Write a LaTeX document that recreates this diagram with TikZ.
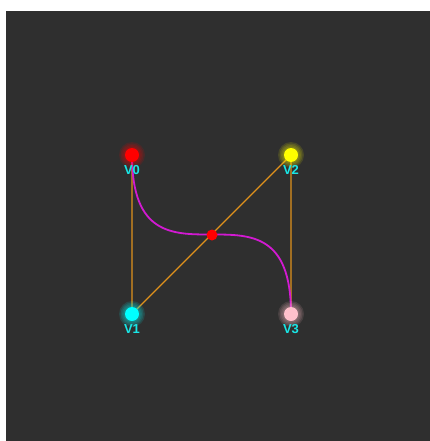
\documentclass[tikz,border=0pt]{standalone}
\usepackage{fontspec}
\setmainfont{Liberation Sans}
\definecolor{bgdark}{HTML}{2F2F2F}
\definecolor{edgeorange}{HTML}{E0921C}
\definecolor{curvemag}{HTML}{D21AD2}
\definecolor{labelcyan}{HTML}{19E6E6}
\definecolor{vred}{HTML}{FF0000}
\definecolor{vcyan}{HTML}{00FFFF}
\definecolor{vyellow}{HTML}{FFFF00}
\definecolor{vpink}{HTML}{FFC0CB}
\begin{document}
\begin{tikzpicture}[x=1pt,y=-1pt,
  vx/.style={circle,inner sep=0pt,minimum size=14pt,fill=#1},
  lbl/.style={text=labelcyan,font=\bfseries\fontsize{13}{13}\selectfont,inner sep=0pt,anchor=north},
  edge/.style={draw=edgeorange,line width=1.3pt},
  bez/.style={draw=curvemag,line width=1.8pt}]
  \useasboundingbox (0,0) rectangle (430,441);
  \fill[white] (0,0) rectangle (430,441);
  \fill[bgdark] (6,11) rectangle (430,441);
  % control points
  \coordinate (p0) at (132,155);
  \coordinate (p1) at (132,314);
  \coordinate (p2) at (291,155);
  \coordinate (p3) at (291,314);
  \coordinate (mid) at (212,235);
  % polygon
  \draw[edge] (p0) -- (p1) -- (p2) -- (p3);
  \draw[bez] (p0) .. controls (p1) and (p2) .. (p3);
  % glow
  \foreach \p/\c in {p0/vred,p1/vcyan,p2/vyellow,p3/vpink}{
    \foreach \r in {13,11.5,10,8.5}
      \fill[\c,opacity=0.12] (\p) circle (\r);
  }
  \node[vx=vred] (v0) at (p0){};
  \node[vx=vcyan] (v1) at (p1){};
  \node[vx=vyellow] (v2) at (p2){};
  \node[vx=vpink] (v3) at (p3){};
  \node[circle,inner sep=0pt,minimum size=11pt,fill=vred] (m) at (mid){};
  % labels
  \node[lbl] (l0) at ([yshift=-10.5]p0){V0};
  \node[lbl] (l1) at ([yshift=-10.5]p1){V1};
  \node[lbl] (l2) at ([yshift=-10.5]p2){V2};
  \node[lbl] (l3) at ([yshift=-10.5]p3){V3};
\end{tikzpicture}
\end{document}
